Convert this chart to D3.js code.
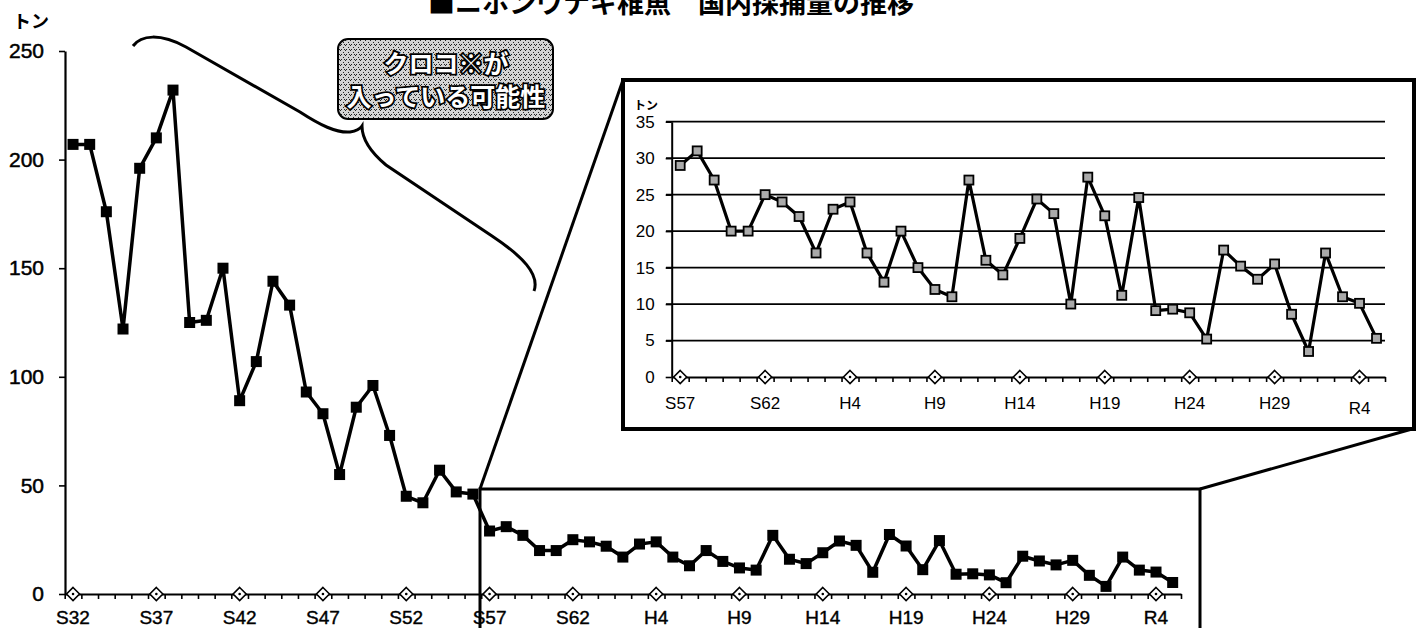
<!DOCTYPE html>
<html>
<head>
<meta charset="utf-8">
<title>ニホンウナギ稚魚 国内採捕量の推移</title>
<script src="https://cdn.jsdelivr.net/npm/d3@7"></script>
<style>
  body { margin: 0; background: #fff; }
  svg { display: block; }
  .num { font-family: "Liberation Sans", Arial, sans-serif; fill: #000; }
  .jp { font-family: "Noto Sans CJK JP", sans-serif; font-weight: 700; }
</style>
</head>
<body>
<div id="chart"></div>
<script>
// fiscal years S32 (1957) .. R5 (2023)
var years = [1957, 1958, 1959, 1960, 1961, 1962, 1963, 1964, 1965, 1966,
             1967, 1968, 1969, 1970, 1971, 1972, 1973, 1974, 1975, 1976,
             1977, 1978, 1979, 1980, 1981, 1982, 1983, 1984, 1985, 1986,
             1987, 1988, 1989, 1990, 1991, 1992, 1993, 1994, 1995, 1996,
             1997, 1998, 1999, 2000, 2001, 2002, 2003, 2004, 2005, 2006,
             2007, 2008, 2009, 2010, 2011, 2012, 2013, 2014, 2015, 2016,
             2017, 2018, 2019, 2020, 2021, 2022, 2023];

// 採捕量 (トン)
var catchTons = [207, 207, 176, 122, 196, 210, 232, 125, 126, 150,
                 89, 107, 144, 133, 93, 83, 55, 86, 96, 73,
                 45, 42, 57, 47, 46, 29, 31, 27, 20, 20,
                 25, 24, 22, 17, 23, 24, 17, 13, 20, 15,
                 12, 11, 27, 16, 14, 19, 24.4, 22.4, 10, 27.4,
                 22.1, 11.2, 24.6, 9.1, 9.3, 8.8, 5.2, 17.4, 15.2, 13.4,
                 15.5, 8.6, 3.5, 17, 11, 10.1, 5.3];

var labelYears = [1957, 1962, 1967, 1972, 1977, 1982, 1987, 1992, 1997, 2002, 2007, 2012, 2017, 2022];
var labelNames = ["S32", "S37", "S42", "S47", "S52", "S57", "S62", "H4", "H9", "H14", "H19", "H24", "H29", "R4"];

var yTicks = [0, 50, 100, 150, 200, 250];
var insetYTicks = [0, 5, 10, 15, 20, 25, 30, 35];
var insetFrom = 1982;

var w = 1422;
var h = 628;

var data = years.map(function (yr, i) { return { year: yr, v: catchTons[i] }; });
var insetData = data.filter(function (d) { return d.year >= insetFrom; });
var insetYears = insetData.map(function (d) { return d.year; });
var labels = labelYears.map(function (yr, i) { return { year: yr, name: labelNames[i] }; });

var svg = d3.select("#chart").append("svg")
    .attr("width", w)
    .attr("height", h);

// halftone-ish fill for the callout
var pat = svg.append("defs").append("pattern")
    .attr("id", "dots")
    .attr("width", 5).attr("height", 5)
    .attr("patternUnits", "userSpaceOnUse");
pat.append("rect").attr("width", 5).attr("height", 5).attr("fill", "#d4d4d4");
[[0, 0], [3, 2], [1, 4], [4, 4]].forEach(function (p) {
    pat.append("rect").attr("x", p[0]).attr("y", p[1]).attr("width", 1).attr("height", 1).attr("fill", "#222");
});

var diamond = "M0,-6.5L6.5,0L0,6.5L-6.5,0Z";

// ---------- main chart ----------
var x = d3.scaleBand().domain(years).range([64.7, 1181]);
var y = d3.scaleLinear().domain([0, 250]).range([594, 51]);
function cx(d) { return x(d.year) + x.bandwidth() / 2; }

var main = svg.append("g");

main.append("text").attr("class", "jp")
    .attr("x", 671).attr("y", 13)
    .attr("text-anchor", "middle")
    .attr("font-size", "27px")
    .text("■ニホンウナギ稚魚　国内採捕量の推移");

main.append("text").attr("class", "jp")
    .attr("x", 13).attr("y", 28)
    .attr("font-size", "18px")
    .text("トン");

var yAxis = main.append("g")
    .attr("transform", "translate(65,0)")
    .call(d3.axisLeft(y).tickValues(yTicks).tickSize(6).tickSizeOuter(0).tickPadding(15));
yAxis.select(".domain").attr("stroke-width", 2.2);
yAxis.selectAll("line").attr("stroke-width", 1.6);
yAxis.selectAll("text").attr("class", "num")
    .attr("font-size", "21px")
    .attr("stroke", "#000").attr("stroke-width", 0.5);

var xi = d3.scaleLinear().domain([0, years.length]).range(x.range());
var xAxis = main.append("g")
    .attr("transform", "translate(0,594)")
    .call(d3.axisBottom(xi).tickValues(d3.range(0, years.length + 1)).tickSize(5).tickSizeOuter(0).tickFormat(""));
xAxis.select(".domain").attr("stroke-width", 2.2);
xAxis.selectAll("line").attr("stroke-width", 1.6);

main.selectAll("path.dia")
    .data(labels)
    .enter()
    .append("path")
    .attr("class", "dia")
    .attr("d", diamond)
    .attr("transform", function (d) { return "translate(" + cx(d) + "," + y(0) + ")"; })
    .attr("fill", "#fff")
    .attr("stroke", "#000")
    .attr("stroke-width", 1.6);
main.selectAll("circle.dia")
    .data(labels)
    .enter()
    .append("circle")
    .attr("cx", cx)
    .attr("cy", y(0))
    .attr("r", 1.3);

main.selectAll("text.xl")
    .data(labels)
    .enter()
    .append("text")
    .attr("class", "num")
    .attr("x", cx)
    .attr("y", 624)
    .attr("text-anchor", "middle")
    .attr("font-size", "19px")
    .attr("stroke", "#000").attr("stroke-width", 0.4)
    .text(function (d) { return d.name; });

// zoom box + connectors (drawn before the series so the line sits on top)
main.append("rect")
    .attr("x", 480).attr("y", 489)
    .attr("width", 720).attr("height", 200)
    .attr("fill", "none")
    .attr("stroke", "#000")
    .attr("stroke-width", 3);
main.append("line")
    .attr("x1", 480).attr("y1", 489).attr("x2", 623).attr("y2", 80)
    .attr("stroke", "#000").attr("stroke-width", 3);
main.append("line")
    .attr("x1", 1200).attr("y1", 489).attr("x2", 1412).attr("y2", 429)
    .attr("stroke", "#000").attr("stroke-width", 3);

var line = d3.line()
    .x(cx)
    .y(function (d) { return y(d.v); });

main.append("path")
    .datum(data)
    .attr("d", line)
    .attr("fill", "none")
    .attr("stroke", "#000")
    .attr("stroke-width", 3.5)
    .attr("stroke-linejoin", "round");

main.selectAll("rect.mk")
    .data(data)
    .enter()
    .append("rect")
    .attr("class", "mk")
    .attr("x", function (d) { return cx(d) - 5.5; })
    .attr("y", function (d) { return y(d.v) - 5.5; })
    .attr("width", 11)
    .attr("height", 11)
    .attr("fill", "#000");

// brace + callout
main.append("path")
    .attr("d", "M133,46 C141,35 160,33 186,47 L300,112 C320,125 336,133 350,132 C356,131 360,129 362,126" +
               " C362,136 368,150 386,165 L492,236 C522,256 540,274 534,291")
    .attr("fill", "none")
    .attr("stroke", "#000")
    .attr("stroke-width", 3);

main.append("rect")
    .attr("x", 338).attr("y", 39)
    .attr("width", 215).attr("height", 80)
    .attr("rx", 10)
    .attr("fill", "url(#dots)")
    .attr("stroke", "#000")
    .attr("stroke-width", 2);

main.selectAll("text.callout")
    .data(["クロコ※が", "入っている可能性"])
    .enter()
    .append("text")
    .attr("class", "jp")
    .attr("x", 446)
    .attr("y", function (d, i) { return i === 0 ? 73 : 106; })
    .attr("text-anchor", "middle")
    .attr("font-size", "25px")
    .attr("fill", "#fff")
    .attr("stroke", "#000")
    .attr("stroke-width", 3.5)
    .attr("paint-order", "stroke")
    .text(function (d) { return d; });

// ---------- inset ----------
var inset = svg.append("g");

inset.append("rect")
    .attr("x", 623).attr("y", 80)
    .attr("width", 791).attr("height", 349)
    .attr("fill", "#fff")
    .attr("stroke", "#000")
    .attr("stroke-width", 4);

var x2 = d3.scaleBand().domain(insetYears).range([671.7, 1385]);
var y2 = d3.scaleLinear().domain([0, 35]).range([377, 121.7]);
function cx2(d) { return x2(d.year) + x2.bandwidth() / 2; }

inset.selectAll("line.grid")
    .data(insetYTicks.slice(1))
    .enter()
    .append("line")
    .attr("x1", 666).attr("x2", 1385)
    .attr("y1", function (d) { return y2(d); })
    .attr("y2", function (d) { return y2(d); })
    .attr("stroke", "#000")
    .attr("stroke-width", 1.8);

var y2Axis = inset.append("g")
    .attr("transform", "translate(671.7,0)")
    .call(d3.axisLeft(y2).tickValues(insetYTicks).tickSize(6).tickSizeOuter(0).tickPadding(11));
y2Axis.select(".domain").attr("stroke-width", 2);
y2Axis.selectAll("line").attr("stroke-width", 1.6);
y2Axis.selectAll("text").attr("class", "num").attr("font-size", "17px");

var xi2 = d3.scaleLinear().domain([0, insetYears.length]).range(x2.range());
var x2Axis = inset.append("g")
    .attr("transform", "translate(0,377)")
    .call(d3.axisBottom(xi2).tickValues(d3.range(0, insetYears.length + 1)).tickSize(5).tickSizeOuter(0).tickFormat(""));
x2Axis.select(".domain").attr("stroke-width", 2);
x2Axis.selectAll("line").attr("stroke-width", 1.6);

var insetLabels = labels.filter(function (d) { return d.year >= insetFrom; });

inset.selectAll("path.dia")
    .data(insetLabels)
    .enter()
    .append("path")
    .attr("class", "dia")
    .attr("d", diamond)
    .attr("transform", function (d) { return "translate(" + cx2(d) + "," + y2(0) + ")"; })
    .attr("fill", "#fff")
    .attr("stroke", "#000")
    .attr("stroke-width", 1.6);
inset.selectAll("circle.dia")
    .data(insetLabels)
    .enter()
    .append("circle")
    .attr("cx", cx2)
    .attr("cy", y2(0))
    .attr("r", 1.3);

inset.selectAll("text.xl")
    .data(insetLabels)
    .enter()
    .append("text")
    .attr("class", "num")
    .attr("x", cx2)
    .attr("y", function (d) { return d.name === "R4" ? 414 : 409; })
    .attr("text-anchor", "middle")
    .attr("font-size", "17px")
    .text(function (d) { return d.name; });

inset.append("text").attr("class", "jp")
    .attr("x", 634).attr("y", 110)
    .attr("font-size", "12px")
    .text("トン");

var line2 = d3.line()
    .x(cx2)
    .y(function (d) { return y2(d.v); });

inset.append("path")
    .datum(insetData)
    .attr("d", line2)
    .attr("fill", "none")
    .attr("stroke", "#000")
    .attr("stroke-width", 3.2)
    .attr("stroke-linejoin", "round");

inset.selectAll("rect.mk")
    .data(insetData)
    .enter()
    .append("rect")
    .attr("class", "mk")
    .attr("x", function (d) { return cx2(d) - 4.5; })
    .attr("y", function (d) { return y2(d.v) - 4.5; })
    .attr("width", 9)
    .attr("height", 9)
    .attr("fill", "#aaa")
    .attr("stroke", "#000")
    .attr("stroke-width", 1.8);
</script>
</body>
</html>
